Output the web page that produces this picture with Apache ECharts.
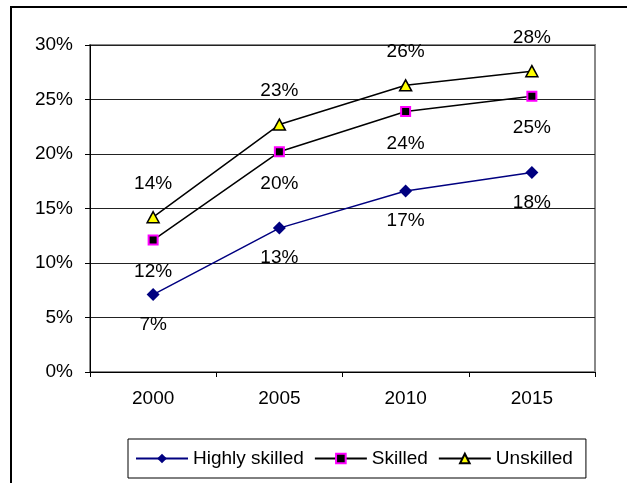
<!DOCTYPE html>
<html>
<head>
<meta charset="utf-8">
<script src="https://cdn.jsdelivr.net/npm/echarts@6/dist/echarts.min.js"></script>
<style>
html,body{margin:0;padding:0;background:#fff;}
#chart{width:627px;height:483px;}
</style>
</head>
<body>
<div id="chart"></div>
<script>
var categories = ['2000', '2005', '2010', '2015'];
var highlySkilled = [7.1, 13.2, 16.6, 18.3];
var skilled = [12.1, 20.2, 23.9, 25.3];
var unskilled = [14.2, 22.7, 26.3, 27.6];
var seriesNames = ['Highly skilled', 'Skilled', 'Unskilled'];

var font = 'Liberation Sans, Arial, sans-serif';
var chart = echarts.init(document.getElementById('chart'));
function pct(p) { return Math.round(p.value) + '%'; }
var labelBase = { show: true, color: '#000', fontFamily: font, fontSize: 19, formatter: pct };

chart.setOption({
  animation: false,
  backgroundColor: '#fff',
  graphic: [{
    type: 'rect', shape: { x: 11, y: 7, width: 640, height: 500 },
    style: { fill: 'none', stroke: '#000', lineWidth: 2 }, z: 100
  }],
  grid: { left: 90, right: 32, top: 45, bottom: 111, show: true, borderColor: '#888', borderWidth: 2, backgroundColor: 'transparent' },
  xAxis: {
    type: 'category', data: categories, boundaryGap: true,
    axisLine: { lineStyle: { color: '#000', width: 1 } },
    axisTick: { show: true, length: 5, lineStyle: { color: '#000' } },
    axisLabel: { color: '#000', fontFamily: font, fontSize: 19, margin: 17 }
  },
  yAxis: {
    type: 'value', min: 0, max: 30, interval: 5,
    axisLine: { show: true, lineStyle: { color: '#000', width: 1 } },
    axisTick: { show: true, length: 5, lineStyle: { color: '#000' } },
    axisLabel: { color: '#000', fontFamily: font, fontSize: 19, margin: 17, formatter: '{value}%' },
    splitLine: { show: true, lineStyle: { color: '#222', width: 1 } }
  },
  legend: {
    left: 128, top: 439, orient: 'horizontal',
    data: seriesNames,
    itemWidth: 52, itemHeight: 12, itemGap: 10,
    padding: [10, 13, 10, 7],
    borderColor: '#000', borderWidth: 1,
    textStyle: { color: '#000', fontFamily: font, fontSize: 19 }
  },
  series: [
    {
      name: seriesNames[0], type: 'line', data: highlySkilled,
      symbol: 'diamond', symbolSize: 13,
      lineStyle: { color: '#000080', width: 1.5 },
      itemStyle: { color: '#000080', borderColor: '#000080', borderWidth: 0 },
      label: Object.assign({ position: 'bottom', distance: 14 }, labelBase),
      z: 3
    },
    {
      name: seriesNames[1], type: 'line', data: skilled,
      symbol: 'rect', symbolSize: 9,
      lineStyle: { color: '#000', width: 1.5 },
      itemStyle: { color: '#000', borderColor: '#ff00ff', borderWidth: 2 },
      label: Object.assign({ position: 'bottom', distance: 17 }, labelBase),
      z: 4
    },
    {
      name: seriesNames[2], type: 'line', data: unskilled,
      symbol: 'triangle', symbolSize: [12, 11],
      lineStyle: { color: '#000', width: 1.5 },
      itemStyle: { color: '#ffff00', borderColor: '#000', borderWidth: 1.5 },
      label: Object.assign({ position: 'top', distance: 18 }, labelBase),
      z: 5
    }
  ]
});
</script>
</body>
</html>
